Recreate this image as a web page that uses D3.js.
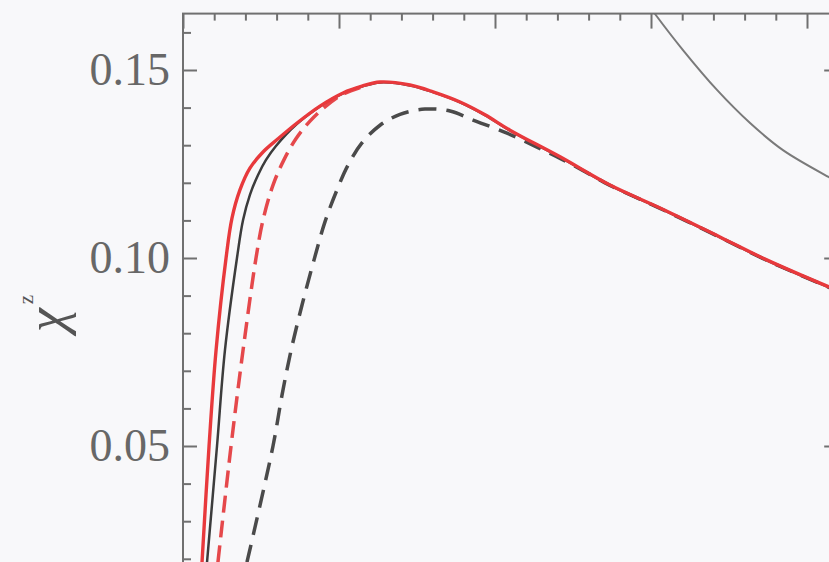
<!DOCTYPE html>
<html>
<head>
<meta charset="utf-8">
<script src="https://cdn.jsdelivr.net/npm/d3@7"></script>
<style>
  html, body { margin: 0; padding: 0; background: #f8f8fa; }
  svg { display: block; }
  .frame { fill: none; stroke: #707070; stroke-width: 2; }
  .tick line { stroke: #707070; stroke-width: 2; }
  .tick text { font-family: "Liberation Serif", "DejaVu Serif", serif; fill: #676767; }
  .domain { display: none; }
</style>
</head>
<body>
<div id="chart"></div>
<script>
// values (x axis labels are cropped away, so x is in tick units)
var tRed = [0.122, 0.167, 0.212, 0.276, 0.314, 0.365, 0.429, 0.513, 0.609, 0.731, 0.878, 1.026, 1.147, 1.263, 1.455, 1.603, 1.776, 1.936, 2.096, 2.417, 2.737, 3.058, 3.442, 3.731, 4.141, 4.2];
var chiRed = [0.0191, 0.0500, 0.0755, 0.1000, 0.1106, 0.1181, 0.1239, 0.1282, 0.1317, 0.1359, 0.1404, 0.1439, 0.1457, 0.1468, 0.1460, 0.1442, 0.1415, 0.1381, 0.1340, 0.1269, 0.1194, 0.1133, 0.1056, 0.0997, 0.0923, 0.0913];

var tBlack = [0.154, 0.218, 0.269, 0.346, 0.385, 0.429, 0.481, 0.532, 0.596, 0.731, 0.878, 1.026, 1.147, 1.263, 1.455, 1.603, 1.776, 1.936, 2.096, 2.417, 2.737, 3.058, 3.442, 3.731, 4.141, 4.2];
var chiBlack = [0.0191, 0.0500, 0.0755, 0.1000, 0.1101, 0.1168, 0.1221, 0.1261, 0.1298, 0.1357, 0.1403, 0.1438, 0.1456, 0.1467, 0.1459, 0.1441, 0.1414, 0.1380, 0.1339, 0.1268, 0.1193, 0.1132, 0.1055, 0.0996, 0.0922, 0.0912];

var tRedDash = [0.224, 0.308, 0.385, 0.468, 0.513, 0.577, 0.647, 0.724, 0.814, 0.910, 1.026, 1.147];
var chiRedDash = [0.0191, 0.0500, 0.0755, 0.1000, 0.1101, 0.1194, 0.1261, 0.1317, 0.1364, 0.1402, 0.1436, 0.1455];

var tBlackDash = [0.410, 0.577, 0.635, 0.692, 0.763, 0.840, 0.910, 0.987, 1.058, 1.147, 1.263, 1.391, 1.551, 1.712, 1.859, 2.077, 2.269, 2.436, 2.628, 2.737, 3.058, 3.442, 3.731, 4.141, 4.2];
var chiBlackDash = [0.0191, 0.0500, 0.0636, 0.0753, 0.0875, 0.0995, 0.1096, 0.1181, 0.1247, 0.1306, 0.1353, 0.1382, 0.1396, 0.1391, 0.1367, 0.1332, 0.1295, 0.1261, 0.1218, 0.1193, 0.1132, 0.1055, 0.0996, 0.0922, 0.0912];

var tGray = [2.99, 3.026, 3.205, 3.423, 3.635, 3.846, 4.141, 4.2];
var chiGray = [0.167, 0.1649, 0.1553, 0.1447, 0.1359, 0.1287, 0.1215, 0.1202];

var yMajor = [0.05, 0.10, 0.15];

var W = 829, H = 562;
var plotLeft = 183, plotTop = 13.6;

var x = d3.scaleLinear().domain([0, 4.2]).range([plotLeft, plotLeft + 4.2 * 156]);
var y = d3.scaleLinear().domain([0, 0.165]).range([plotTop + 0.165 * 3760, plotTop]);

var svg = d3.select("#chart").append("svg")
    .attr("width", W)
    .attr("height", H);

svg.append("clipPath").attr("id", "plotclip")
  .append("rect")
    .attr("x", x(0)).attr("y", y(0.165))
    .attr("width", x(4.2) - x(0)).attr("height", y(0) - y(0.165));

function zip(ts, cs) {
    return ts.map(function(t, i) { return {t: t, c: cs[i]}; });
}

var line = d3.line()
    .x(function(d) { return x(d.t); })
    .y(function(d) { return y(d.c); })
    .curve(d3.curveCatmullRom.alpha(0.5));

var plot = svg.append("g").attr("clip-path", "url(#plotclip)");

plot.append("path")
    .attr("d", line(zip(tGray, chiGray)))
    .attr("fill", "none").attr("stroke", "#7a7a7a").attr("stroke-width", 2);

plot.append("path")
    .attr("d", line(zip(tBlackDash, chiBlackDash)))
    .attr("fill", "none").attr("stroke", "#4a4a4a").attr("stroke-width", 3.5)
    .attr("stroke-dasharray", "18,10");

plot.append("path")
    .attr("d", line(zip(tBlack, chiBlack)))
    .attr("fill", "none").attr("stroke", "#3c3c3c").attr("stroke-width", 2.5);

plot.append("path")
    .attr("d", line(zip(tRedDash, chiRedDash)))
    .attr("fill", "none").attr("stroke", "#e5484b").attr("stroke-width", 3.5)
    .attr("stroke-dasharray", "17,8");

plot.append("path")
    .attr("d", line(zip(tRed, chiRed)))
    .attr("fill", "none").attr("stroke", "#e8393c").attr("stroke-width", 3.4);

// axes: ticks point inward
var yAxis = d3.axisLeft(y).tickValues(yMajor).tickSize(-14).tickPadding(13)
    .tickFormat(d3.format(".2f"));
svg.append("g").attr("transform", "translate(" + x(0) + ",0)").call(yAxis)
    .selectAll("text").style("font-size", "46px");

var yMinor = d3.range(1, 17).map(function(i) { return i / 100; })
    .filter(function(v) { return yMajor.indexOf(Math.round(v * 100) / 100) < 0; });
svg.append("g").attr("transform", "translate(" + x(0) + ",0)")
    .call(d3.axisLeft(y).tickValues(yMinor).tickSize(-8).tickFormat(""));

svg.append("g").attr("transform", "translate(" + x(4.2) + ",0)")
    .call(d3.axisRight(y).tickValues(yMajor).tickSize(-14).tickFormat(""));
svg.append("g").attr("transform", "translate(" + x(4.2) + ",0)")
    .call(d3.axisRight(y).tickValues(yMinor).tickSize(-8).tickFormat(""));

var xMajor = [0, 1, 2, 3, 4];
var xMinor = d3.range(1, 21).map(function(i) { return i / 5; })
    .filter(function(v) { return Math.abs(v - Math.round(v)) > 1e-6; });
svg.append("g").attr("transform", "translate(0," + y(0.165) + ")")
    .call(d3.axisTop(x).tickValues(xMajor).tickSize(-15).tickFormat(""));
svg.append("g").attr("transform", "translate(0," + y(0.165) + ")")
    .call(d3.axisTop(x).tickValues(xMinor).tickSize(-7).tickFormat(""));

svg.append("rect").attr("class", "frame")
    .attr("x", x(0)).attr("y", y(0.165))
    .attr("width", x(4.2) - x(0)).attr("height", y(0) - y(0.165));

// y label: chi with superscript z
var lab = svg.append("text")
    .attr("transform", "translate(64,332) rotate(-90)")
    .style("font-family", "Liberation Serif, DejaVu Serif, serif")
    .style("fill", "#555");
lab.append("tspan").style("font-size", "54px").style("font-style", "italic").text("χ");
lab.append("tspan").style("font-size", "21px").attr("dx", 4).attr("dy", -31).text("z");
</script>
</body>
</html>
